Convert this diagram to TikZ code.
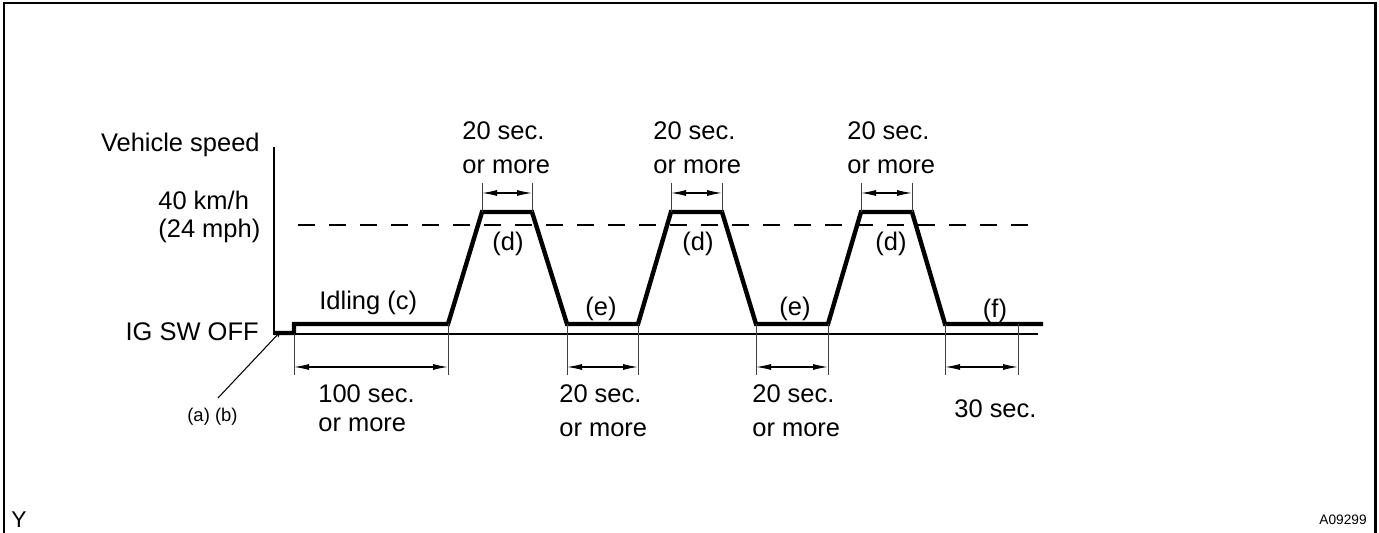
\documentclass[tikz,border=0pt]{standalone}
\usepackage{fontspec}
\setmainfont{Liberation Sans}
\usetikzlibrary{arrows.meta}
\tikzset{
  profile/.style={line width=2.5pt, line join=miter},
  thinline/.style={line width=0.6pt},
  extline/.style={line width=0.5pt, black!75},
  dimline/.style={line width=0.6pt, {Latex[length=0.3cm,width=0.12cm]}-{Latex[length=0.3cm,width=0.12cm]}},
  lbl/.style={inner sep=0pt, font=\fontsize{14.5}{17}\selectfont},
  smalllbl/.style={inner sep=0pt, font=\fontsize{10.5}{12}\selectfont},
  tinylbl/.style={inner sep=0pt, font=\fontsize{7.8}{9}\selectfont},
}
\begin{document}
\begin{tikzpicture}[x=0.02cm,y=-0.02cm]
	\useasboundingbox (0,0) rectangle (1379,533);
	\draw[line width=1.7pt] (4,533) -- (4,3) -- (1375,3) -- (1375,533);
	
	% axes
	\coordinate (origin) at (274,334);
	\draw[thinline] (274,147) -- (origin) -- (1038,334);
	\draw[thinline, dash pattern=on 0.34cm off 0.28cm] (298,225) -- (1033,225);
	
	% speed profile
	\coordinate (p0) at (274,333);
	\coordinate (p1) at (294,333);
	\coordinate (p2) at (294,324);
	\coordinate (r1) at (448,324);
	\coordinate (t1) at (482,212);
	\coordinate (t2) at (532,212);
	\coordinate (f1) at (567,324);
	\coordinate (r2) at (638,324);
	\coordinate (t3) at (671,212);
	\coordinate (t4) at (722,212);
	\coordinate (f2) at (756,324);
	\coordinate (r3) at (828,324);
	\coordinate (t5) at (861,212);
	\coordinate (t6) at (912,212);
	\coordinate (f3) at (945,324);
	\coordinate (m30) at (1018,324);
	\coordinate (pend) at (1043,324);
	\draw[profile] (p0) -- (p1) -- (p2) -- (r1) -- (t1) -- (t2) -- (f1) -- (r2) -- (t3) -- (t4) -- (f2) -- (r3) -- (t5) -- (t6) -- (f3) -- (pend);
	
	% dimensions above
	\draw[extline] (t1) -- ++(0,-29);
	\draw[extline] (t2) -- ++(0,-29);
	\draw[dimline] (t1) ++(0,-19) -- ++(50,0);
	\draw[extline] (t3) -- ++(0,-29);
	\draw[extline] (t4) -- ++(0,-29);
	\draw[dimline] (t3) ++(0,-19) -- ++(51,0);
	\draw[extline] (t5) -- ++(0,-29);
	\draw[extline] (t6) -- ++(0,-29);
	\draw[dimline] (t5) ++(0,-19) -- ++(51,0);
	
	% dimensions below
	\draw[extline] (p1) ++(0,1) -- ++(0,41);
	\draw[extline] (r1) -- ++(0,51);
	\draw[dimline] (p1) ++(0,34) -- ++(154,0);
	\draw[extline] (f1) -- ++(0,51);
	\draw[extline] (r2) -- ++(0,51);
	\draw[dimline] (f1) ++(0,43) -- ++(71,0);
	\draw[extline] (f2) -- ++(0,51);
	\draw[extline] (r3) -- ++(0,51);
	\draw[dimline] (f2) ++(0,43) -- ++(72,0);
	\draw[extline] (f3) -- ++(0,51);
	\draw[extline] (m30) -- ++(0,51);
	\draw[dimline] (f3) ++(0,43) -- ++(73,0);
	
	% labels
	\node[lbl, anchor=base east] (vspeed) at (260,152) {Vehicle speed};
	\node[lbl, anchor=base west] (kmh) at (158,210) {40 km/h};
	\node[lbl, anchor=base west] (mph) at (158,238) {(24 mph)};
	\node[lbl, anchor=base west] (idle) at (319,310) {Idling (c)};
	\node[lbl, anchor=base east] (igoff) at (259,341) {IG SW OFF};
	\node[smalllbl, anchor=base west] (ab) at (187,421) {(a) (b)};
	\draw[thinline, -{Stealth[length=4pt,width=3pt]}] (218,398) -- (281,331);
	
	\node[lbl, anchor=base west] (idlea) at (318,402) {100 sec.};
	\node[lbl, anchor=base west] (idleb) at (318,431) {or more};
	
	\node[lbl, anchor=base west] (upa) at (462,140) {20 sec.};
	\node[lbl, anchor=base west] (upb) at (462,174) {or more};
	\node[lbl, anchor=base west] (upc) at (653,140) {20 sec.};
	\node[lbl, anchor=base west] (upd) at (653,174) {or more};
	\node[lbl, anchor=base west] (upe) at (847,140) {20 sec.};
	\node[lbl, anchor=base west] (upf) at (847,174) {or more};
	
	\node[lbl, anchor=base west] (lowa) at (559,402) {20 sec.};
	\node[lbl, anchor=base west] (lowb) at (559,437) {or more};
	\node[lbl, anchor=base west] (lowc) at (752,402) {20 sec.};
	\node[lbl, anchor=base west] (lowd) at (752,437) {or more};
	\node[lbl, anchor=base west] (last) at (954,418) {30 sec.};
	
	\node[lbl, anchor=base] (d1) at (508,251) {(d)};
	\node[lbl, anchor=base] (d2) at (698,251) {(d)};
	\node[lbl, anchor=base] (d3) at (891,251) {(d)};
	\node[lbl, anchor=base] (e1) at (601,316) {(e)};
	\node[lbl, anchor=base] (e2) at (795,316) {(e)};
	\node[lbl, anchor=base] (f) at (995,318) {(f)};
	
	\node[lbl, font=\fontsize{13}{15}\selectfont, anchor=base west] (ycode) at (11,527) {Y};
	\node[tinylbl, anchor=base east] (figno) at (1367,524) {A09299};
\end{tikzpicture}
\end{document}
